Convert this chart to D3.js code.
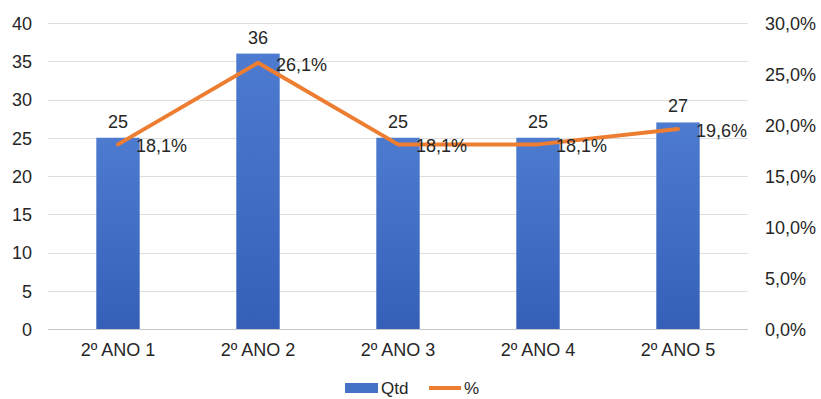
<!DOCTYPE html>
<html>
<head>
<meta charset="utf-8">
<script src="https://cdn.jsdelivr.net/npm/d3@7"></script>
<style>
  body { margin: 0; background: #fff; }
  text { font-family: "Liberation Sans", Arial, sans-serif; fill: #262626; }
</style>
</head>
<body>
<div id="chart"></div>
<script>
var categories = ["2º ANO 1", "2º ANO 2", "2º ANO 3", "2º ANO 4", "2º ANO 5"];
var qtd = [25, 36, 25, 25, 27];
var pct = [0.181, 0.261, 0.181, 0.181, 0.196];
var leftTicks = [0, 5, 10, 15, 20, 25, 30, 35, 40];
var rightTicks = [0, 0.05, 0.10, 0.15, 0.20, 0.25, 0.30];

var width = 821, height = 399;
var margin = {top: 23, right: 73, bottom: 70, left: 48};

var svg = d3.select("#chart").append("svg")
  .attr("width", width)
  .attr("height", height);

var defs = svg.append("defs");
var grad = defs.append("linearGradient")
  .attr("id", "barGrad")
  .attr("x1", 0).attr("y1", 0).attr("x2", 0).attr("y2", 1);
grad.append("stop").attr("offset", "0%").attr("stop-color", "#4d7bd0");
grad.append("stop").attr("offset", "100%").attr("stop-color", "#3660b8");

var x = d3.scaleBand()
  .domain(categories)
  .range([margin.left, width - margin.right])
  .padding(0);

var y = d3.scaleLinear().domain([0, 40]).range([329, margin.top]);
var y2 = d3.scaleLinear().domain([0, 0.30]).range(y.range());

var fmtPct = function(v) { return d3.format(".1f")(v * 100).replace(".", ",") + "%"; };

// gridlines
svg.append("g")
  .selectAll("line")
  .data(leftTicks)
  .join("line")
  .attr("x1", margin.left)
  .attr("x2", width - margin.right)
  .attr("y1", function(d) { return Math.round(y(d)) + 0.5; })
  .attr("y2", function(d) { return Math.round(y(d)) + 0.5; })
  .attr("stroke", function(d) { return d === 0 ? "#c8c8c8" : "#dedede"; })
  .attr("stroke-width", 1.2);

// left axis
var leftAxis = svg.append("g")
  .attr("transform", "translate(" + (margin.left - 16) + ",0)")
  .call(d3.axisLeft(y).tickValues(leftTicks).tickSize(0).tickPadding(0));
leftAxis.select(".domain").remove();
leftAxis.selectAll("text").style("font-size", "18px").attr("dy", "0.35em").attr("fill", "#262626");

// right axis
var rightAxis = svg.append("g")
  .attr("transform", "translate(" + (width - margin.right + 17) + ",0)")
  .call(d3.axisRight(y2).tickValues(rightTicks).tickFormat(fmtPct).tickSize(0).tickPadding(0));
rightAxis.select(".domain").remove();
rightAxis.selectAll("text").style("font-size", "18px").attr("dy", "0.35em").attr("fill", "#262626");

// category axis
var bottomAxis = svg.append("g")
  .attr("transform", "translate(0," + (y(0) + 14) + ")")
  .call(d3.axisBottom(x).tickSize(0).tickPadding(0));
bottomAxis.select(".domain").remove();
bottomAxis.selectAll("text").style("font-size", "18px").attr("dy", "0.71em").attr("fill", "#262626");

// bars
var barW = x.bandwidth() * 0.31;
svg.append("g")
  .selectAll("rect")
  .data(qtd)
  .join("rect")
  .attr("x", function(d, i) { return x(categories[i]) + x.bandwidth() / 2 - barW / 2; })
  .attr("y", function(d) { return y(d); })
  .attr("width", barW)
  .attr("height", function(d) { return y(0) - y(d); })
  .attr("fill", "url(#barGrad)");

// bar labels
svg.append("g")
  .selectAll("text")
  .data(qtd)
  .join("text")
  .attr("x", function(d, i) { return x(categories[i]) + x.bandwidth() / 2; })
  .attr("y", function(d) { return y(d) - 10; })
  .attr("text-anchor", "middle")
  .style("font-size", "18px")
  .text(function(d) { return d; });

// line
var line = d3.line()
  .x(function(d, i) { return x(categories[i]) + x.bandwidth() / 2; })
  .y(function(d) { return y2(d); });

svg.append("path")
  .datum(pct)
  .attr("d", line)
  .attr("fill", "none")
  .attr("stroke", "#ed7d31")
  .attr("stroke-width", 4)
  .attr("stroke-linejoin", "round")
  .attr("stroke-linecap", "round");

// line labels
svg.append("g")
  .selectAll("text")
  .data(pct)
  .join("text")
  .attr("x", function(d, i) { return x(categories[i]) + x.bandwidth() / 2 + 18; })
  .attr("y", function(d) { return y2(d) + 8; })
  .style("font-size", "18px")
  .text(fmtPct);

// legend
var legend = svg.append("g").attr("transform", "translate(0,388)");
legend.append("rect")
  .attr("x", 345).attr("y", -5).attr("width", 33).attr("height", 10)
  .attr("fill", "#4472c4");
legend.append("text")
  .attr("x", 381).attr("y", 0).attr("dy", "0.35em")
  .style("font-size", "17px")
  .text("Qtd");
legend.append("line")
  .attr("x1", 429).attr("x2", 461).attr("y1", 0).attr("y2", 0)
  .attr("stroke", "#ed7d31").attr("stroke-width", 4);
legend.append("text")
  .attr("x", 464).attr("y", 0).attr("dy", "0.35em")
  .style("font-size", "17px")
  .text("%");
</script>
</body>
</html>
